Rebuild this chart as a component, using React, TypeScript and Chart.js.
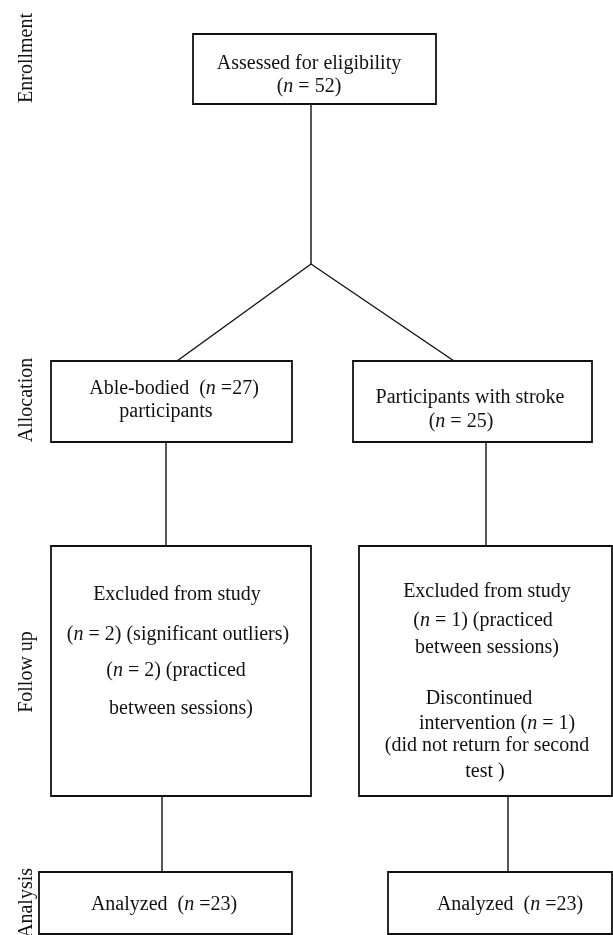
import React, { useEffect, useRef } from "react";
import { Chart, registerables } from "chart.js";

Chart.register(...registerables);

// Flow-chart nodes (data units = page pixels on linear axes 0..613 / 0..935)
const boxLeft = [193, 51, 353, 51, 359, 39, 388];
const boxRight = [436, 292, 592, 311, 612, 292, 612];
const boxTop = [34, 361, 361, 546, 546, 872, 872];
const boxBottom = [104, 442, 442, 796, 796, 934, 934];

// Connector polylines: x values and y values per link
const linkXs = [
  [311, 311],
  [177, 311, 454],
  [166, 166],
  [486, 486],
  [162, 162],
  [508, 508],
];
const linkYs = [
  [104, 264],
  [361, 264, 361],
  [442, 546],
  [442, 546],
  [796, 872],
  [796, 872],
];

// Box texts (*n* = italic)
const textLines = [
  "Assessed for eligibility",
  "(*n* = 52)",
  "Able-bodied  (*n* =27)",
  "participants",
  "Participants with stroke",
  "(*n* = 25)",
  "Excluded from study",
  "(*n* = 2) (significant outliers)",
  "(*n* = 2) (practiced",
  "between sessions)",
  "Excluded from study",
  "(*n* = 1) (practiced",
  "between sessions)",
  "Discontinued",
  "intervention (*n* = 1)",
  "(did not return for second",
  "test )",
  "Analyzed  (*n* =23)",
  "Analyzed  (*n* =23)",
];
const textX = [309, 309, 174, 166, 470, 461, 177, 178, 176, 181, 487, 483, 487, 479, 497, 487, 485, 164, 510];
const textY = [68.5, 92, 393.5, 417, 403, 426.5, 600, 639.5, 676, 714, 596.5, 626, 653, 704, 729, 751, 777, 909.5, 909.5];

// Stage labels (vertical)
const stageLabels = ["Enrollment", "Allocation", "Follow up", "Analysis"];
const stageY = [58, 400, 672, 903];
const stageX = 32;

const FONT = "'Liberation Serif', 'Times New Roman', serif";

const textPlugin = {
  id: "flowText",
  afterDatasetsDraw(chart: any) {
    const ctx = chart.ctx as CanvasRenderingContext2D;
    const xs = chart.scales.x;
    const ys = chart.scales.y;
    ctx.save();
    ctx.fillStyle = "#111";
    ctx.textBaseline = "alphabetic";
    ctx.textAlign = "left";
    for (let i = 0; i < textLines.length; i++) {
      const parts = textLines[i].split("*");
      let total = 0;
      const widths: number[] = [];
      parts.forEach((p, k) => {
        ctx.font = (k % 2 === 1 ? "italic " : "") + "20px " + FONT;
        const w = ctx.measureText(p).width;
        widths.push(w);
        total += w;
      });
      let px = xs.getPixelForValue(textX[i]) - total / 2;
      const py = ys.getPixelForValue(textY[i]);
      parts.forEach((p, k) => {
        ctx.font = (k % 2 === 1 ? "italic " : "") + "20px " + FONT;
        ctx.fillText(p, px, py);
        px += widths[k];
      });
    }
    ctx.font = "20px " + FONT;
    ctx.textAlign = "center";
    for (let i = 0; i < stageLabels.length; i++) {
      ctx.save();
      ctx.translate(xs.getPixelForValue(stageX), ys.getPixelForValue(stageY[i]));
      ctx.rotate(-Math.PI / 2);
      ctx.fillText(stageLabels[i], 0, 0);
      ctx.restore();
    }
    ctx.restore();
  },
};

export default function App() {
  const ref = useRef<HTMLCanvasElement | null>(null);
  useEffect(() => {
    if (!ref.current) return;
    const datasets: any[] = [];
    for (let i = 0; i < boxLeft.length; i++) {
      const l = boxLeft[i], r = boxRight[i], t = boxTop[i], b = boxBottom[i];
      datasets.push({
        data: [
          { x: l, y: t },
          { x: r, y: t },
          { x: r, y: b },
          { x: l, y: b },
          { x: l, y: t },
          { x: r, y: t },
        ],
        showLine: true,
        pointRadius: 0,
        borderColor: "#111",
        borderWidth: 1.8,
        borderJoinStyle: "miter",
        tension: 0,
        fill: false,
        clip: false,
      });
    }
    for (let i = 0; i < linkXs.length; i++) {
      datasets.push({
        data: linkXs[i].map((x, k) => ({ x, y: linkYs[i][k] })),
        showLine: true,
        pointRadius: 0,
        borderColor: "#111",
        borderWidth: 1.4,
        tension: 0,
        fill: false,
        clip: false,
      });
    }
    const chart = new Chart(ref.current, {
      type: "scatter",
      data: { datasets },
      options: {
        animation: false,
        responsive: false,
        devicePixelRatio: 1,
        layout: { padding: 0 },
        plugins: { legend: { display: false }, tooltip: { enabled: false }, title: { display: false } },
        events: [],
        scales: {
          x: { type: "linear", min: 0, max: 613, display: false },
          y: { type: "linear", min: 0, max: 935, reverse: true, display: false },
        },
      },
      plugins: [textPlugin],
    });
    return () => chart.destroy();
  }, []);
  return (
    <div style={{ position: "absolute", left: 0, top: 0, width: 613, height: 935, background: "#fff" }}>
      <canvas ref={ref} width={613} height={935} style={{ display: "block", width: 613, height: 935 }} />
    </div>
  );
}
